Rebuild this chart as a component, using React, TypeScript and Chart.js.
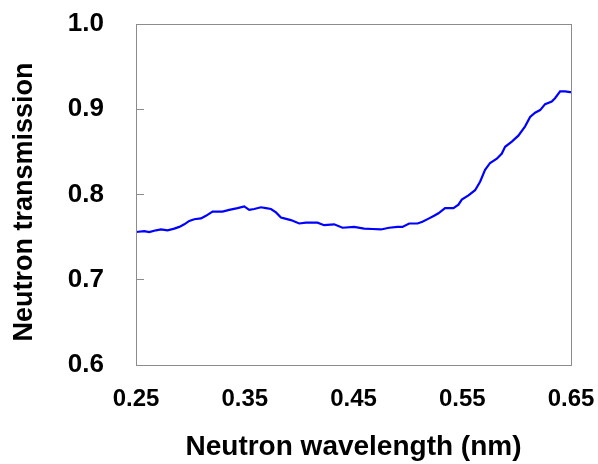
import React, { useEffect, useRef } from "react";
import { Chart, registerables } from "chart.js";

Chart.register(...registerables);

const wavelength = [
  0.25, 0.2576, 0.2622, 0.2684, 0.273, 0.279, 0.2852, 0.2898, 0.2944, 0.299,
  0.3036, 0.3097, 0.3143, 0.3204, 0.3296, 0.3357, 0.3434, 0.3495, 0.3541, 0.3587,
  0.3649, 0.3695, 0.3741, 0.3787, 0.3833, 0.3863, 0.3924, 0.4001, 0.4062, 0.4169,
  0.423, 0.4322, 0.4399, 0.4506, 0.4598, 0.4674, 0.4752, 0.4828, 0.4904, 0.495,
  0.5012, 0.5088, 0.5134, 0.5195, 0.5241, 0.5281, 0.5342, 0.5419, 0.5465, 0.5496,
  0.5557, 0.5618, 0.5664, 0.571, 0.5756, 0.5818, 0.5864, 0.5894, 0.5956, 0.6016,
  0.6078, 0.6124, 0.617, 0.6216, 0.6262, 0.6323, 0.6353, 0.64, 0.6445, 0.6491, 0.65,
];

const transmission = [
  0.756, 0.757, 0.756, 0.758, 0.759, 0.758, 0.76, 0.762, 0.765, 0.769,
  0.771, 0.772, 0.775, 0.78, 0.78, 0.782, 0.784, 0.786, 0.782, 0.783,
  0.785, 0.784, 0.783, 0.779, 0.773, 0.772, 0.77, 0.766, 0.767, 0.767,
  0.764, 0.765, 0.761, 0.762, 0.76, 0.7595, 0.759, 0.761, 0.762, 0.762,
  0.766, 0.766, 0.768, 0.772, 0.775, 0.778, 0.784, 0.784, 0.788, 0.794,
  0.799, 0.805, 0.815, 0.829, 0.837, 0.842, 0.848, 0.856, 0.862, 0.869,
  0.88, 0.891, 0.896, 0.899, 0.906, 0.909, 0.913, 0.921, 0.921, 0.92, 0.92,
];

const xTicks = [0.25, 0.35, 0.45, 0.55, 0.65];
const yTicks = [0.6, 0.7, 0.8, 0.9, 1.0];

const xTitle = "Neutron wavelength (nm)";
const yTitle = "Neutron transmission  ";

const FONT = "'Liberation Sans', Arial, sans-serif";

const boxPlugin = {
  id: "boxPlugin",
  afterDraw(chart: any) {
    const { ctx, chartArea } = chart;
    ctx.save();
    ctx.strokeStyle = "#8c8c8c";
    ctx.lineWidth = 1;
    ctx.strokeRect(
      Math.round(chartArea.left) + 0.5,
      Math.round(chartArea.top) + 0.5,
      Math.round(chartArea.right - chartArea.left),
      Math.round(chartArea.bottom - chartArea.top)
    );
    ctx.restore();
  },
};

export default function App() {
  const ref = useRef<HTMLCanvasElement | null>(null);

  useEffect(() => {
    if (!ref.current) return;
    const chart = new Chart(ref.current, {
      type: "line",
      data: {
        datasets: [
          {
            data: wavelength.map((x, i) => ({ x, y: transmission[i] })),
            borderColor: "#0000ff",
            borderWidth: 2.2,
            pointRadius: 0,
            tension: 0,
            fill: false,
          },
        ],
      },
      plugins: [boxPlugin],
      options: {
        animation: false,
        responsive: true,
        maintainAspectRatio: false,
        layout: { padding: { left: 0, right: 27, top: 24, bottom: 0 } },
        plugins: { legend: { display: false }, tooltip: { enabled: false } },
        scales: {
          x: {
            type: "linear",
            min: 0.25,
            max: 0.65,
            afterBuildTicks: (s: any) => {
              s.ticks = xTicks.map((v) => ({ value: v }));
            },
            afterFit: (s: any) => {
              s.height = 99;
              s.paddingLeft = 0;
              s.paddingRight = 0;
            },
            grid: { display: false },
            border: { display: false },
            ticks: {
              color: "#000",
              font: { family: FONT, size: 24, weight: "bold" },
              padding: 12,
              maxRotation: 0,
              autoSkip: false,
              callback: (v: any) => Number(v).toFixed(2),
            },
            title: {
              display: true,
              text: xTitle,
              color: "#000",
              font: { family: FONT, size: 28, weight: "bold" },
              padding: { top: 0, bottom: 0 },
            },
          },
          y: {
            type: "linear",
            min: 0.6,
            max: 1.0,
            afterBuildTicks: (s: any) => {
              s.ticks = yTicks.map((v) => ({ value: v }));
            },
            afterFit: (s: any) => {
              s.width = 136;
              s.paddingTop = 0;
              s.paddingBottom = 0;
            },
            grid: {
              display: true,
              drawOnChartArea: false,
              drawTicks: true,
              tickLength: -8,
              color: "#8c8c8c",
            },
            border: { display: false },
            ticks: {
              color: "#000",
              font: { family: FONT, size: 26, weight: "bold" },
              padding: 40,
              autoSkip: false,
              callback: (v: any) => Number(v).toFixed(1),
            },
            title: {
              display: true,
              text: yTitle,
              color: "#000",
              font: { family: FONT, size: 27, weight: "bold" },
              padding: { top: 8, bottom: 0 },
            },
          },
        },
      },
    });
    return () => chart.destroy();
  }, []);

  return (
    <div style={{ position: "fixed", left: 0, top: 0, width: 598, height: 464, background: "#fff" }}>
      <canvas ref={ref} />
    </div>
  );
}
